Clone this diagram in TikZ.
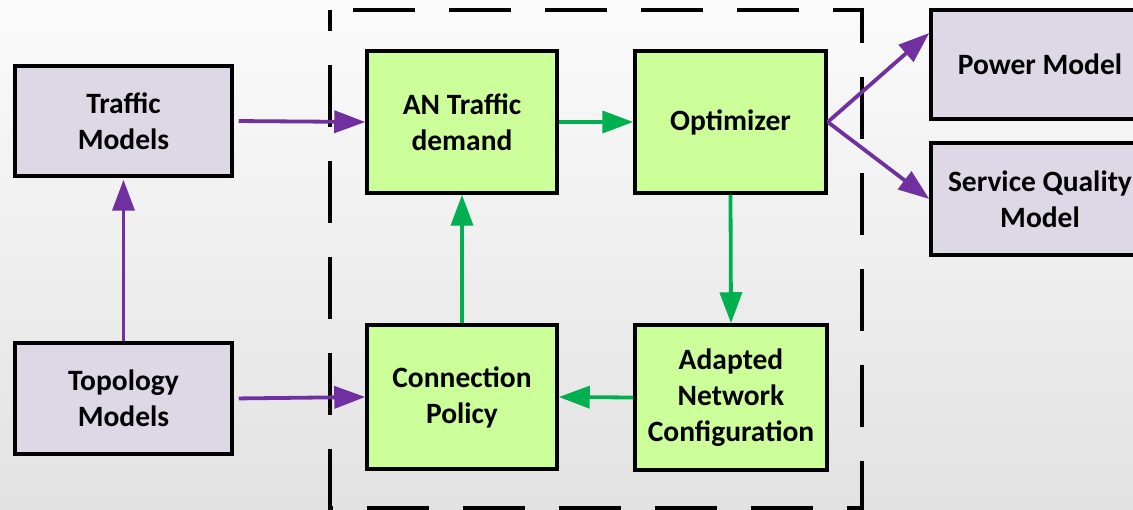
\documentclass[tikz,border=0pt]{standalone}
\usepackage{fontspec}
\setmainfont{Carlito}
\usetikzlibrary{arrows.meta,calc}
\definecolor{lav}{HTML}{DED7E6}
\definecolor{lgreen}{HTML}{CCFF99}
\definecolor{purp}{HTML}{7030A0}
\definecolor{grn}{HTML}{00B050}
\definecolor{bgtop}{HTML}{FBFBFB}
\definecolor{bgbot}{HTML}{E2E2E2}
\tikzset{
  box/.style={draw=black, line width=3.5pt, align=center, inner sep=2pt,
    font=\fontsize{29.5}{36}\selectfont\bfseries},
  modelbox/.style={box, fill=lav},
  procbox/.style={box, fill=lgreen},
  parr/.style={draw=purp, line width=3.8pt, -{Triangle[length=31pt,width=22pt]}},
  garr/.style={draw=grn, line width=3.8pt, -{Triangle[length=31pt,width=22pt]}},
  frame/.style={draw=black, line width=3.5pt, dash pattern=on 62pt off 34pt, dash phase=73pt}
}
\begin{document}
\begin{tikzpicture}[x=1pt,y=-1pt]
\useasboundingbox (0,0) rectangle (1133,510);
\clip (0,0) rectangle (1133,510);
\shade[top color=bgtop, bottom color=bgbot] (0,0) rectangle (1133,510);
\draw[frame] (330,10) -- (862,10) -- (862,508) -- (330,508) -- cycle;

\node[modelbox, minimum width=217pt, minimum height=110pt] (traffic) at (123.5,121) {Traffic\\Models};
\node[modelbox, minimum width=217pt, minimum height=111pt] (topo) at (123.5,398.5) {Topology\\Models};
\node[procbox, minimum width=190pt, minimum height=142pt] (an) at (462,122) {AN Traffic\\demand};
\node[procbox, minimum width=191pt, minimum height=142pt] (opt) at (730.5,122) {Optimizer};
\node[procbox, minimum width=190pt, minimum height=144pt] (conn) at (462,397) {Connection\\Policy};
\node[procbox, minimum width=192pt, minimum height=145pt] (adapt) at (731,397.5) {Adapted\\Network\\Configuration};
\node[modelbox, minimum width=218pt, minimum height=109pt] (power) at (1040,64.5) {Power Model};
\node[modelbox, minimum width=218pt, minimum height=112pt] (svc) at (1040,199) {Service Quality\\Model};

\draw[parr, shorten <=5pt] (traffic.east) -- (an.west);
\draw[parr, shorten <=5pt] (topo.east) -- (conn.west);
\draw[parr, shorten >=2pt] (topo.north) -- (traffic.south);
\draw[parr] (opt.east) -- ([yshift=31.5pt]power.west);
\draw[parr] (opt.east) -- (svc.west);

\draw[garr] (an.east) -- (opt.west);
\draw[garr] (opt.south) -- (adapt.north);
\draw[garr] (adapt.west) -- (conn.east);
\draw[garr] (conn.north) -- (an.south);
\end{tikzpicture}
\end{document}
